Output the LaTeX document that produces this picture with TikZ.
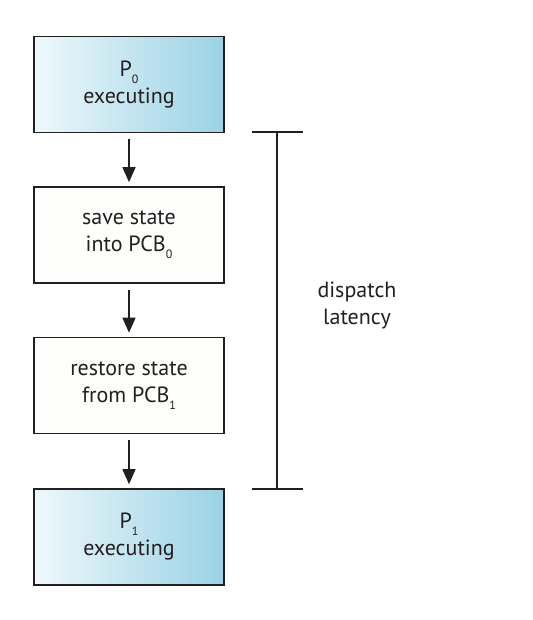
\documentclass[tikz,border=0pt]{standalone}
\usepackage{fontspec}
\setmainfont{PT Sans}
\usetikzlibrary{arrows.meta}

\definecolor{inkgray}{HTML}{231F20}
\definecolor{procleft}{HTML}{EEF8FB}
\definecolor{procright}{HTML}{9AD2E5}
\definecolor{stepfill}{HTML}{FEFEFC}

\newcommand{\lowidx}[1]{\raisebox{-0.3em}{\fontsize{12}{12}\selectfont #1}}

\begin{document}
\begin{tikzpicture}[x=1pt,y=-1pt,
    every node/.style={text=inkgray,font=\fontsize{22}{27}\selectfont,align=center},
    box/.style={draw=inkgray,line width=1.6pt,minimum width=190pt,minimum height=96pt,inner sep=0pt},
    proc/.style={box,left color=procleft,right color=procright},
    stepbox/.style={box,fill=stepfill},
    flow/.style={draw=inkgray,line width=1.3pt,-{Triangle[width=13pt,length=15pt]},shorten <=6pt,shorten >=4pt}]
            \useasboundingbox (0,0) rectangle (532,620);

            \node[proc] (pzero) at (129,84.5) {P\lowidx{0}\\executing};
            \node[stepbox] (save) at (129,235) {save state\\into PCB\lowidx{0}};
            \node[stepbox] (restore) at (129,385.5) {restore state\\from PCB\lowidx{1}};
            \node[proc] (pone) at (129,537) {P\lowidx{1}\\executing};

            \draw[flow] (pzero) -- (save);
            \draw[flow] (save) -- (restore);
            \draw[flow] (restore) -- (pone);

            % latency bracket
            \coordinate (ltop) at (277,132);
            \coordinate (lbot) at (277,489);
            \draw[inkgray,line width=1.3pt] ([xshift=-25pt]ltop) -- ([xshift=26pt]ltop);
            \draw[inkgray,line width=1.3pt] ([xshift=-25pt]lbot) -- ([xshift=26pt]lbot);
            \draw[inkgray,line width=1.3pt] (ltop) -- (lbot);
            \node (latency) at (357,305) {dispatch\\latency};
        \end{tikzpicture}
\end{document}
